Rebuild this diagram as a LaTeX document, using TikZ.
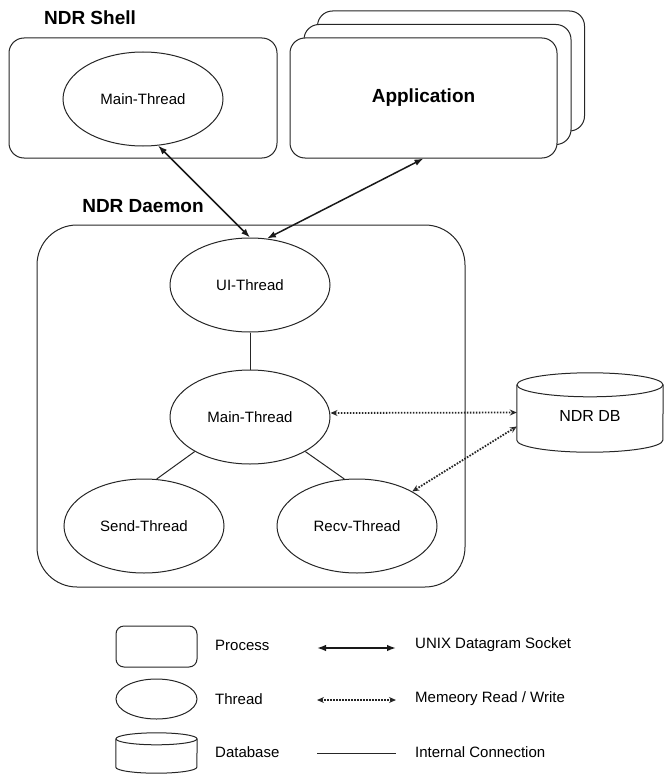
\documentclass[tikz,border=0pt]{standalone}
\usepackage{fontspec}
\setmainfont{Liberation Sans}
\usetikzlibrary{shapes.geometric,arrows.meta,calc}

% database drum: node name, x radius, y radius of the end caps
\newcommand\drawdrum[3]{%
  \draw[ln] ($(#1.north)+(0,#3)$) ellipse [x radius=#2 pt, y radius=#3 pt];
  \draw[ln] ($(#1.north west)+(0,#3)$) -- ($(#1.south west)+(0,-#3)$)
    arc [start angle=180, end angle=360, x radius=#2 pt, y radius=#3 pt]
    -- ($(#1.north east)+(0,#3)$);
}

\tikzset{
  ln/.style={line width=1pt, draw=black!85},
  procbox/.style={ln, rectangle, rounded corners=15pt, fill=white,
    minimum width=268pt, minimum height=120pt, inner sep=0pt},
  thread/.style={ln, ellipse, minimum width=160pt, minimum height=94pt,
    inner sep=0pt, font=\fontsize{15}{18}\selectfont},
  title/.style={inner sep=0pt, font=\fontsize{19}{22}\selectfont\bfseries},
  legtext/.style={anchor=west, inner sep=0pt, font=\fontsize{15}{18}\selectfont},
  socket/.style={line width=1.5pt, draw=black!90,
    {Latex[length=9pt,width=6.5pt]}-{Latex[length=9pt,width=6.5pt]}},
  memrw/.style={line width=1.8pt, draw=black!85, dash pattern=on 1.6pt off 1.4pt,
    {Stealth[length=7pt,width=6pt,open,line width=1pt]}-{Stealth[length=7pt,width=6pt,open,line width=1pt]}},
  internal/.style={ln},
}

\begin{document}
\begin{tikzpicture}[x=1pt,y=-1pt]
\useasboundingbox (0,0) rectangle (665,776);

% NDR shell process
\node[title] (shelltitle) at (90,18) {NDR Shell};
\node[procbox] (shell) at (143,98) {};
\node[thread] (smain) at (143,99) {Main-Thread};

% stacked application processes
\node[procbox, minimum width=267pt] (appback) at (451,71) {};
\node[procbox, minimum width=267pt] (appmid) at (437.5,84.5) {};
\node[procbox, minimum width=267pt, font=\fontsize{19}{22}\selectfont\bfseries] (app) at (423.5,98) {Application};

% NDR daemon process and its threads
\node[title] (daemontitle) at (143,206) {NDR Daemon};
\node[ln, rectangle, rounded corners=40pt, minimum width=428pt, minimum height=362pt] (daemon) at (251,406) {};
\node[thread] (ui) at (250,285) {UI-Thread};
\node[thread] (main) at (250,417) {Main-Thread};
\node[thread] (send) at (144,526) {Send-Thread};
\node[thread] (recv) at (357,526) {Recv-Thread};

% database
\node[inner sep=0pt, minimum width=146pt, minimum height=79pt,
      font=\fontsize{16}{19}\selectfont, text depth=0pt] (db) at (590,412.5) {\raisebox{-6pt}{NDR DB}};
\drawdrum{db}{73}{12}

% sockets
\draw[socket] (smain.-72) -- (ui.north);
\draw[socket] (app.south) -- (ui.70);

% internal connections
\draw[internal] (ui.south) -- (main.north);
\draw[internal] (main.212) -- (send.75);
\draw[internal] (main.328) -- (recv.105);

% memory access
\draw[memrw] ([yshift=4pt]main.east) -- (db.west);
\draw[memrw] (recv.32) -- ([yshift=-14pt]db.west);

% legend
\node[ln, rectangle, rounded corners=8pt, minimum width=81pt, minimum height=41pt, inner sep=0pt] (legproc) at (156.5,646.5) {};
\node[legtext] (legproctext) at (215,645) {Process};
\node[ln, ellipse, minimum width=81pt, minimum height=40pt, inner sep=0pt] (legthr) at (156.5,699) {};
\node[legtext] (legthrtext) at (215,699) {Thread};
\node[inner sep=0pt, minimum width=81pt, minimum height=40pt] (legdb) at (156.5,753) {};
\drawdrum{legdb}{40.5}{6}
\node[legtext] (legdbtext) at (215,752) {Database};

\coordinate (sa) at (317,648);
\coordinate (sb) at (396,648);
\coordinate (ma) at (317,700);
\coordinate (mb) at (396,700);
\coordinate (ia) at (317,753);
\coordinate (ib) at (396,753);
\draw[socket] (sa) -- (sb);
\draw[memrw] (ma) -- (mb);
\draw[internal] (ia) -- (ib);
\node[legtext] (legsock) at (415,645) {UNIX Datagram Socket};
\node[legtext] (legmem) at (415,699) {Memeory Read / Write};
\node[legtext] (legint) at (415,752) {Internal Connection};
\end{tikzpicture}
\end{document}
